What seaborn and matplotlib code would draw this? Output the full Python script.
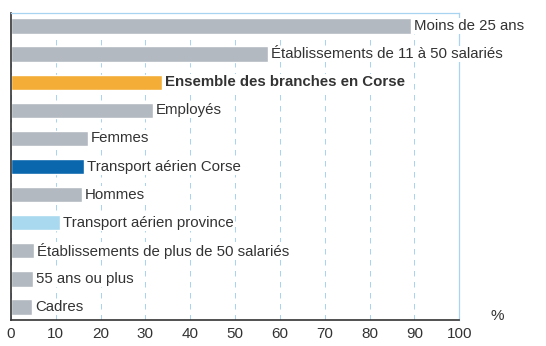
import matplotlib
matplotlib.use("Agg")
import matplotlib.pyplot as plt
import seaborn as sns
import pandas as pd

# Share of employees (%) by group
categories = [
    "Moins de 25 ans",
    "Établissements de 11 à 50 salariés",
    "Ensemble des branches en Corse",
    "Employés",
    "Femmes",
    "Transport aérien Corse",
    "Hommes",
    "Transport aérien province",
    "Établissements de plus de 50 salariés",
    "55 ans ou plus",
    "Cadres",
]
values = [89.2, 57.3, 33.8, 31.6, 17.1, 16.3, 15.9, 11.0, 5.2, 5.0, 4.8]
bar_colors = [
    "#b3b9c0", "#b3b9c0", "#f4ae37", "#b3b9c0", "#b3b9c0",
    "#0b67ad", "#b3b9c0", "#a9d9ee", "#b3b9c0", "#b3b9c0", "#b3b9c0",
]
bold_label = "Ensemble des branches en Corse"
x_ticks = [0, 10, 20, 30, 40, 50, 60, 70, 80, 90, 100]

sns.set_theme(style="white")
plt.rcParams["font.family"] = ["Liberation Sans Narrow", "Liberation Sans", "DejaVu Sans"]

df = pd.DataFrame({"categorie": categories, "valeur": values})

fig = plt.figure(figsize=(5.46, 3.46), dpi=100)
ax = fig.add_axes([0.0198, 0.0751, 0.8214, 0.8873])

sns.barplot(
    data=df, x="valeur", y="categorie", hue="categorie",
    palette=bar_colors, orient="h", width=0.54, legend=False,
    saturation=1, ax=ax,
)

ax.set_xlim(0, 100)
ax.set_ylim(len(categories) - 0.54, -0.46)
ax.set_xticks(x_ticks)
ax.set_xticklabels([str(t) for t in x_ticks])
ax.set_yticks([])
ax.set_xlabel("")
ax.set_ylabel("")
ax.tick_params(axis="x", length=0, pad=5, labelsize=11, labelcolor="#333333")

# Dashed light-blue vertical gridlines behind the bars
ax.set_axisbelow(True)
ax.xaxis.grid(True, color="#a8d4f2", linewidth=0.72, linestyle=(0, (5.5, 5.5)))

for side in ("top", "right"):
    ax.spines[side].set_color("#a8d4f2")
    ax.spines[side].set_linewidth(0.9)
for side in ("left", "bottom"):
    ax.spines[side].set_color("#333333")
    ax.spines[side].set_linewidth(1.2)

# Category labels at the end of each bar
for i, (cat, val) in enumerate(zip(categories, values)):
    ax.annotate(
        cat, xy=(val, i), xytext=(2.2, 0), textcoords="offset points",
        ha="left", va="center", fontsize=10.8, color="#333333",
        fontweight="bold" if cat == bold_label else "normal",
        bbox=dict(boxstyle="square,pad=0.08", facecolor="white", edgecolor="none"),
        annotation_clip=False,
    )

fig.text(497 / 546, 1 - 316 / 346, "%", ha="center", va="center",
         fontsize=11, color="#333333")

fig.savefig("out.png", dpi=100)
